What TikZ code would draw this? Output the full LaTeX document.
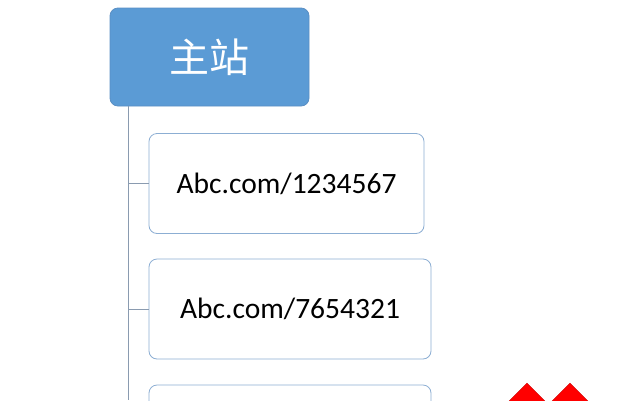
\documentclass[tikz,border=0pt]{standalone}
\usepackage{fontspec}
\setmainfont{Carlito}
\newfontfamily\cjk{Noto Sans CJK SC}
\usetikzlibrary{shapes.geometric}
\definecolor{mainblue}{HTML}{5B9BD5}
\definecolor{mainedge}{HTML}{5A8FC4}
\definecolor{boxedge}{HTML}{8CAED3}
\definecolor{trunkgray}{HTML}{8A9BB0}
\tikzset{
  mainbox/.style={draw=mainedge, fill=mainblue, rounded corners=8pt, line width=0.8pt,
    minimum width=199pt, minimum height=98pt, text=white, font=\cjk\fontsize{40}{44}\selectfont},
  urlbox/.style={draw=boxedge, fill=white, rounded corners=8pt, line width=0.8pt,
    minimum height=100pt, font=\fontsize{29.5}{34}\selectfont},
  branch/.style={draw=trunkgray, line width=0.9pt}
}
\begin{document}
\begin{tikzpicture}[x=1pt, y=-1pt]
  \clip (0,0) rectangle (624,400);
  \fill[white] (0,0) rectangle (624,400);
  \node[mainbox] (main) at (209.5,57) {主站}; % top box
  \coordinate (trunktop) at (128,106);
  \coordinate (trunkend) at (128,400);
  \draw[branch] (trunktop) -- (trunkend); % trunk line
  \node[urlbox, minimum width=275pt] (url1) at (286.5,183.5) {Abc.com/1234567};
  \node[urlbox, minimum width=282pt] (url2) at (290,309) {Abc.com/7654321};
  \node[urlbox, minimum width=282pt] (url3) at (290,435) {};
  \draw[branch] (trunktop |- url1.west) -- (url1.west);
  \draw[branch] (trunktop |- url2.west) -- (url2.west);
  % red marks in the corner
  \node[diamond, fill=red, draw=red!80!black, line width=0.4pt, minimum width=60pt, minimum height=60pt, inner sep=0pt] (mark1) at (527,413) {};
  \node[diamond, fill=red, draw=red!80!black, line width=0.4pt, minimum width=60pt, minimum height=60pt, inner sep=0pt] (mark2) at (570,413) {};
\end{tikzpicture}
\end{document}
